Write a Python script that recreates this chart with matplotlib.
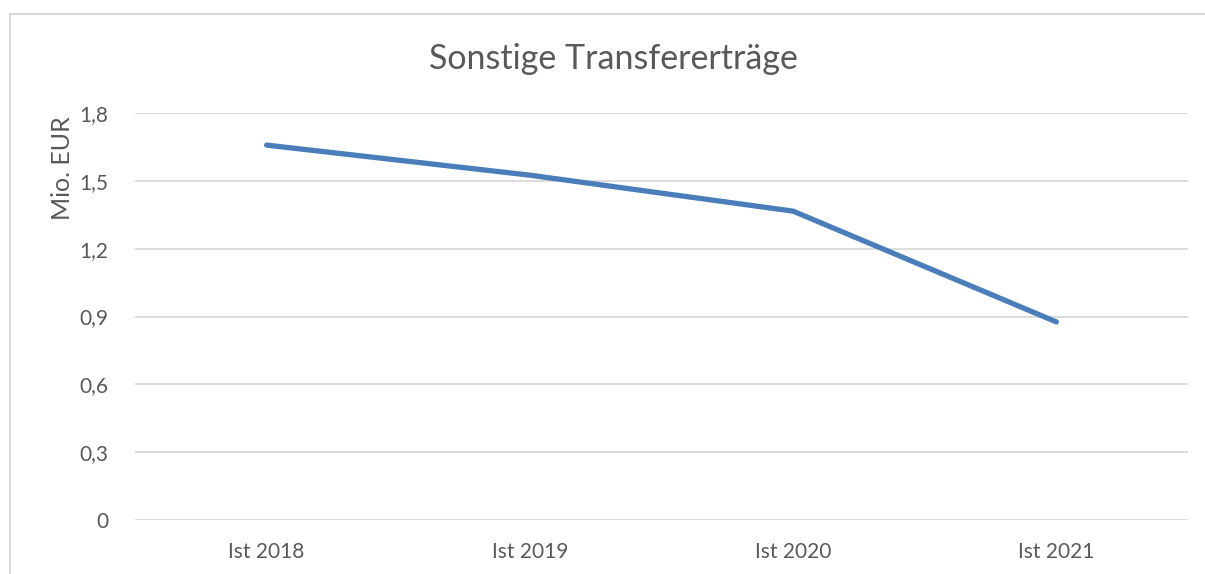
import matplotlib.pyplot as plt
from matplotlib.lines import Line2D

categories = ['Ist 2018', 'Ist 2019', 'Ist 2020', 'Ist 2021']
values = [1.658, 1.525, 1.366, 0.876]
y_ticks = [0, 0.3, 0.6, 0.9, 1.2, 1.5, 1.8]
y_tick_labels = ['0', '0,3', '0,6', '0,9', '1,2', '1,5', '1,8']

plt.rcParams['font.family'] = ['Lato', 'DejaVu Sans']
text_col = '#595959'
grid_col = '#d9d9d9'

fig = plt.figure(figsize=(12.05, 5.74), dpi=100)
# chart frame: only left and top edges are inside the image
fx, fy = 9.5 / 1205, 1 - 13.5 / 574
fig.add_artist(Line2D([fx, fx], [0, fy], transform=fig.transFigure, color=grid_col, lw=1.5))
fig.add_artist(Line2D([fx, 1], [fy, fy], transform=fig.transFigure, color=grid_col, lw=1.5))

ax = fig.add_axes([135 / 1205, 1 - 520 / 574, (1188 - 135) / 1205, (520 - 113) / 574])
x = range(len(categories))
ax.plot(x, values, color='#4a7ebb', linewidth=3.8, solid_capstyle='round')

ax.set_xlim(-0.5, len(categories) - 0.5)
ax.set_ylim(0, 1.8)
ax.set_xticks(list(x))
ax.set_xticklabels(categories)
ax.set_yticks(y_ticks)
ax.set_yticklabels(y_tick_labels)
ax.tick_params(length=0, labelsize=15, colors=text_col)
ax.tick_params(axis='y', pad=19)
ax.tick_params(axis='x', pad=16)
ax.grid(axis='y', color=grid_col, linewidth=1.3)
ax.set_axisbelow(True)
for s in ax.spines.values():
    s.set_visible(False)

fig.text(63 / 1205, 1 - 168 / 574, 'Mio. EUR', rotation=90, ha='center', va='center',
         fontsize=18, color=text_col)
fig.text(613 / 1205, 1 - 59 / 574, 'Sonstige Transfererträge', ha='center', va='center',
         fontsize=24.5, color=text_col)

fig.savefig('out.png', dpi=100)
